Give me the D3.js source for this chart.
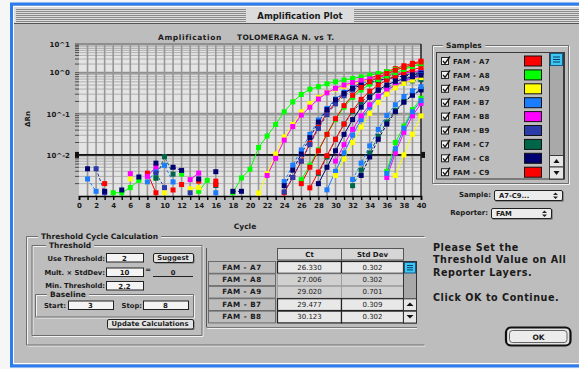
<!DOCTYPE html>
<html>
<head>
<meta charset="utf-8">
<script src="https://cdn.jsdelivr.net/npm/d3@7"></script>
<style>
  html, body { margin: 0; padding: 0; background: #ffffff; }
  svg { display: block; }
  text { font-family: "DejaVu Sans", "Liberation Sans", sans-serif; fill: #1a1a1a; }
</style>
</head>
<body>
<script>
// ---- data -------------------------------------------------------------
const _ = null;                       // cycle with no plotted reading
const cycles = d3.range(1, 41);       // cycles 1..40
const xTickValues = d3.range(0, 41, 2);
const yTickValues = [10, 1, 0.1, 0.01];
const yTickLabels = ["10^1", "10^0", "10^-1", "10^-2"];
const thresholdValue = 0.01;

// Delta Rn per cycle (cycle 1 .. 40)
const rnA7 = [_,_,0.0020,_,_, _,_,0.0036,0.0012,_, _,0.0019,_,0.0023,_, 0.0023,_,_,_,_,
  _,_,_,0.0012,0.00282, 0.00708,0.0191,0.0479,0.105,0.191, 0.302,0.437,0.575,0.724,0.891, 1.10,1.39,1.75,2.13,2.52];
const rnA8 = [_,_,_,0.0012,0.0012, 0.0016,0.0024,_,0.0028,_, _,0.0034,_,0.0013,0.0024, _,_,0.0012,0.00275,0.00447,
  0.0151,0.0288,0.0550,0.112,0.195, 0.295,0.398,0.457,0.537,0.603, 0.661,0.724,0.794,0.871,0.955, 1.10,1.30,1.49,1.69,1.93];
const rnA9 = [_,_,_,_,_, 0.0026,_,0.0022,_,0.0012, _,_,0.0015,0.0016,_, _,_,_,_,_,
  0.00118,0.0035,0.0105,0.0275,0.055, 0.112,0.178,0.251,0.331,0.398, 0.468,0.537,0.603,0.676,0.759, 0.832,0.912,1.0,1.10,1.22];
const rnB7 = [0.0026,0.0013,_,_,_, _,_,0.0022,0.0042,0.0056, 0.0022,_,_,_,_, 0.0012,_,_,_,_,
  _,_,_,0.00224,0.00562, 0.0132,0.0316,0.0708,0.135,0.229, 0.331,0.437,0.537,0.631,0.724, 0.813,0.891,0.977,1.07,1.18];
const rnB8 = [_,_,_,_,_, 0.0035,_,0.0030,0.0051,_, _,_,0.0025,0.0036,_, _,_,_,_,_,
  _,0.00316,0.0083,0.0229,0.049, 0.093,0.145,0.229,0.324,0.417, 0.501,0.575,0.646,0.708,0.776, 0.851,0.912,0.977,1.07,1.18];
const rnB9 = [_,0.0046,0.0012,_,_, _,_,_,0.0036,0.0016, _,_,0.0012,_,_, _,_,_,_,_,
  _,_,_,0.00126,0.00282, 0.00708,0.0178,0.0437,0.0955,0.174, 0.275,0.380,0.479,0.562,0.646, 0.724,0.794,0.871,0.933,1.0];
const rnC7 = [_,_,_,_,_, _,_,_,0.0027,0.0091, 0.0034,_,_,_,_, 0.0018,_,_,_,_,
  _,_,_,_,_, _,_,0.00355,0.00891,0.024, 0.0562,0.112,0.191,0.282,0.372, 0.447,0.513,0.575,0.631,0.676];
const rnC8 = [0.0046,_,0.0013,_,0.0014, _,0.0029,_,0.0063,_, 0.0050,0.0042,_,0.0026,_, 0.0039,_,0.0013,0.0013,_,
  _,_,_,0.00178,0.00427, 0.0105,0.0263,0.0631,0.126,0.219, 0.316,0.417,0.501,0.575,0.646, 0.708,0.776,0.832,0.891,0.955];
const rnC9 = [_,_,_,_,_, _,_,_,_,_, 0.0014,_,_,_,_, 0.0019,_,_,_,_,
  _,_,_,_,_, _,0.00158,0.0038,0.00955,0.024, 0.0562,0.120,0.224,0.355,0.501, 0.661,0.832,1.0,1.26,1.53];
const rnD7 = [_,_,_,_,_, _,_,_,_,_, _,_,_,_,_, _,_,_,_,_,
  _,_,_,_,_, 0.00251,0.00562,0.0132,0.0316,0.0724, 0.145,0.251,0.380,0.525,0.676, 0.832,1.0,1.30,1.64,2.07];
const rnD8 = [_,_,_,_,_, _,_,_,_,_, _,_,_,_,_, _,_,_,_,_,
  _,_,_,_,_, 0.0020,0.00501,0.0126,0.0316,0.0759, 0.158,0.282,0.437,0.603,0.776, 0.955,1.22,1.53,1.93,2.36];
const rnD9 = [_,_,_,_,_, _,_,_,_,_, _,_,_,_,_, _,_,_,_,_,
  _,_,_,_,_, _,_,_,0.00141,0.00398, 0.0112,0.0302,0.0724,0.145,0.251, 0.372,0.501,0.631,0.759,0.891];
const rnE7 = [_,_,_,_,_, _,_,_,_,_, _,_,_,_,_, _,_,_,_,_,
  _,_,_,_,_, _,_,_,_,0.00708, 0.0178,0.0417,0.0891,0.166,0.269, 0.380,0.501,0.617,0.724,0.832];
const rnE8 = [_,_,_,_,_, _,_,_,_,_, _,_,_,_,_, _,_,_,_,_,
  _,_,_,_,_, _,_,_,_,0.00316, 0.00794,0.020,0.0479,0.102,0.191, 0.302,0.427,0.550,0.661,0.759];
const rnE9 = [_,_,_,_,_, _,_,_,_,_, _,_,_,_,_, _,_,_,_,_,
  _,_,_,_,_, _,_,0.0020,0.00501,0.0126, 0.0316,0.0724,0.145,0.251,0.380, 0.501,0.617,0.708,0.794,0.871];
const rnF7 = [_,_,_,_,_, _,_,_,_,_, _,_,_,_,_, _,_,_,_,_,
  _,_,_,_,_, _,_,_,_,_, _,0.00178,0.00427,0.0112,0.0282, 0.0631,0.120,0.200,0.295,0.398];
const rnF8 = [_,_,_,_,_, _,_,_,_,_, _,_,_,_,_, _,_,_,_,_,
  _,_,_,_,_, _,_,_,_,_, _,_,0.00316,0.00891,0.024, 0.0562,0.112,0.191,0.282,0.380];
const rnF9 = [_,_,_,_,_, _,_,_,_,_, _,_,_,_,_, _,_,_,_,_,
  _,_,_,_,_, _,_,_,_,_, _,0.00251,0.00631,0.0166,0.0417, 0.0912,0.166,0.263,0.363,0.457];
const rnG7 = [_,_,_,_,_, _,_,_,_,_, _,_,_,_,_, _,_,_,_,_,
  _,_,_,_,_, _,_,_,_,_, _,_,_,_,_, 0.00398,0.020,0.0501,0.126,0.240];
const rnG8 = [_,_,_,_,_, _,_,_,_,_, _,_,_,_,_, _,_,_,_,_,
  _,_,_,_,_, _,_,_,_,_, _,_,_,_,_, 0.00282,0.0112,0.0355,0.0891,0.178];
const rnG9 = [_,_,_,_,_, _,_,_,_,_, _,_,_,_,_, _,_,_,_,_,
  _,_,_,_,_, _,_,_,_,_, _,_,_,_,_, _,0.00316,0.010,0.0316,0.0891];
const rnH7 = [_,_,_,_,_, _,_,_,_,_, _,_,_,_,_, _,_,_,_,_,
  _,_,_,_,_, _,_,_,_,_, _,_,_,_,_, 0.00355,0.0141,0.0447,0.112,0.209];

const sampleNames = ["FAM - A7","FAM - A8","FAM - A9","FAM - B7","FAM - B8","FAM - B9","FAM - C7","FAM - C8","FAM - C9",
  "FAM - D7","FAM - D8","FAM - D9","FAM - E7","FAM - E8","FAM - E9","FAM - F7","FAM - F8","FAM - F9",
  "FAM - G7","FAM - G8","FAM - G9","FAM - H7"];
const sampleValues = [rnA7, rnA8, rnA9, rnB7, rnB8, rnB9, rnC7, rnC8, rnC9,
  rnD7, rnD8, rnD9, rnE7, rnE8, rnE9, rnF7, rnF8, rnF9, rnG7, rnG8, rnG9, rnH7];

// table of threshold cycles
const tableWells = ["FAM - A7","FAM - A8","FAM - A9","FAM - B7","FAM - B8"];
const tableCt = ["26.330","27.006","29.020","29.477","30.123"];
const tableStdDev = ["0.302","0.302","0.701","0.309","0.302"];

// ---- styles -----------------------------------------------------------
const RED = "#ff0000", GREEN = "#00ff00", YELLOW = "#ffff00", BLUE = "#1a7cff",
      MAGENTA = "#ff00ff", MIDBLUE = "#2a3aa8", TEAL = "#00664a", NAVY = "#000070";
const sampleColors = [RED, GREEN, YELLOW, BLUE, MAGENTA, MIDBLUE, TEAL, NAVY, RED,
  GREEN, RED, BLUE, MAGENTA, YELLOW, NAVY, TEAL, NAVY, BLUE, GREEN, MAGENTA, YELLOW, BLUE];
const sampleDashed = [false,false,false,true,false,true,true,true,false,
  false,false,false,false,false,false,true,true,true,false,false,false,false];
const legendCount = 9;

const W = 579, H = 369;
const BG = "#bdbdbd";
const svg = d3.select("body").append("svg").attr("width", W).attr("height", H);

// ---- window frame -------------------------------------------------------
svg.append("rect").attr("width", W).attr("height", H).attr("fill", "#f6f6f6");
svg.append("rect").attr("x", 10).attr("y", 3).attr("width", W).attr("height", 364).attr("fill", BG);
// title bar
svg.append("rect").attr("x", 13).attr("y", 6).attr("width", W).attr("height", 17).attr("fill", "#dcdcdc");
d3.range(9, 22, 2).forEach(yy => {
  svg.append("line").attr("x1", 16).attr("x2", W).attr("y1", yy + 0.5).attr("y2", yy + 0.5)
    .attr("stroke", "#8a8a8a").attr("stroke-width", 1);
});
svg.append("rect").attr("x", 246).attr("y", 8).attr("width", 108).attr("height", 14).attr("fill", "#dcdcdc");
svg.append("text").attr("x", 300).attr("y", 18.5).attr("text-anchor", "middle")
  .attr("font-size", 8.5).attr("font-weight", "bold").text("Amplification Plot");
svg.append("line").attr("x1", 13).attr("x2", W).attr("y1", 23.5).attr("y2", 23.5).attr("stroke", "#555");
// white inner highlight + blue border
svg.append("path").attr("d", `M${W},6.5 H13.5 V363.5 H${W}`).attr("fill", "none").attr("stroke", "#ffffff");
svg.append("path").attr("d", `M${W + 5},4 H11.5 V366 H${W + 5}`).attr("fill", "none")
  .attr("stroke", "#2b7df2").attr("stroke-width", 3);

// etched group box helper
function groupBox(x, y, w, h, title, titleX, sides) {
  const g = svg.append("g");
  const draw = (dx, col) => {
    const p = d3.path();
    p.moveTo(x + dx, y + dx); p.lineTo(x + w + dx, y + dx);
    if (sides !== "open") { p.lineTo(x + w + dx, y + h + dx); } else { p.moveTo(x + w + dx, y + h + dx); }
    p.lineTo(x + dx, y + h + dx); p.lineTo(x + dx, y + dx);
    g.append("path").attr("d", p.toString()).attr("fill", "none").attr("stroke", col);
  };
  draw(1.5, "#f2f2f2");
  draw(0.5, "#6e6e6e");
  if (title) {
    const t = g.append("text").attr("x", titleX).attr("y", y + 3).attr("font-size", 7.5)
      .attr("font-weight", "bold").text(title);
    const bb = t.node().getBBox();
    g.insert("rect", "text").attr("x", bb.x - 3).attr("y", y - 2).attr("width", bb.width + 6)
      .attr("height", 5).attr("fill", BG);
  }
  return g;
}

// ---- plot ---------------------------------------------------------------
const xScale = d3.scaleLinear().domain([0, 40]).range([79, 421]);
const yScale = d3.scaleLog().domain([0.001, 1, 10]).range([196, 72.7, 44]);
const [px0, px1] = xScale.range();
const py0 = yScale(10), py1 = yScale(0.001);

svg.append("text").attr("x", 158).attr("y", 39.5).attr("font-size", 7.5).attr("font-weight", "bold")
  .attr("letter-spacing", 0.6).text("Amplification");
svg.append("text").attr("x", 237).attr("y", 39.5).attr("font-size", 7.5).attr("font-weight", "bold")
  .attr("letter-spacing", 0.3).text("TOLOMERAGA N. vs T.");

svg.append("rect").attr("x", px0).attr("y", py0).attr("width", px1 - px0).attr("height", py1 - py0)
  .attr("fill", "#e4e4e4");

// horizontal grid (decades + minor steps)
const minorValues = [];
[-3, -2, -1, 0].forEach(e => d3.range(2, 10).forEach(m => minorValues.push(m * Math.pow(10, e))));
const grid = svg.append("g");
minorValues.forEach(v => {
  grid.append("line").attr("x1", px0).attr("x2", px1).attr("y1", yScale(v)).attr("y2", yScale(v))
    .attr("stroke", "#b0b0b0").attr("stroke-width", 1);
});
[0.01, 0.1, 1, 10].forEach(v => {
  grid.append("line").attr("x1", px0).attr("x2", px1).attr("y1", yScale(v)).attr("y2", yScale(v))
    .attr("stroke", "#8e8e8e").attr("stroke-width", 2);
});
// vertical grid, one per cycle
d3.range(1, 40).forEach(c => {
  grid.append("line").attr("x1", xScale(c)).attr("x2", xScale(c)).attr("y1", py0).attr("y2", py1)
    .attr("stroke", "#979797").attr("stroke-width", 1.6);
});
// left tick marks on every grid value
minorValues.concat([0.01, 0.1, 1, 10]).forEach(v => {
  grid.append("line").attr("x1", px0 - 4).attr("x2", px0).attr("y1", yScale(v)).attr("y2", yScale(v))
    .attr("stroke", "#4a4a4a").attr("stroke-width", 1);
});

// threshold line with its end handles
svg.append("line").attr("x1", px0).attr("x2", px1).attr("y1", yScale(thresholdValue)).attr("y2", yScale(thresholdValue))
  .attr("stroke", "#111").attr("stroke-width", 1.6);
[px0 - 4, px1].forEach(hx => {
  svg.append("rect").attr("x", hx).attr("y", yScale(thresholdValue) - 3).attr("width", 4).attr("height", 6)
    .attr("fill", "#111");
});

// axes
const xAxis = svg.append("g").attr("transform", `translate(0,${py1})`)
  .call(d3.axisBottom(xScale).tickValues(d3.range(0, 41)).tickSize(4).tickPadding(3)
    .tickFormat(d => xTickValues.includes(d) ? d : ""));
xAxis.select(".domain").attr("stroke", "#000").attr("stroke-width", 1.6);
xAxis.selectAll(".tick line").attr("stroke", "#000").attr("stroke-width", 1.4);
xAxis.selectAll(".tick text").attr("font-size", 7).attr("font-weight", "bold").attr("fill", "#333")
  .attr("font-family", "DejaVu Sans, sans-serif");

const yAxis = svg.append("g").attr("transform", `translate(${px0},0)`)
  .call(d3.axisLeft(yScale).tickValues(yTickValues).tickSize(0).tickPadding(9)
    .tickFormat((d, i) => yTickLabels[i]));
yAxis.select(".domain").remove();
yAxis.selectAll(".tick text").attr("font-size", 7).attr("font-weight", "bold").attr("fill", "#333")
  .attr("font-family", "DejaVu Sans, sans-serif");

svg.append("line").attr("x1", px1).attr("x2", px1).attr("y1", py0).attr("y2", py1)
  .attr("stroke", "#222").attr("stroke-width", 1.5);

svg.append("text").attr("transform", "translate(30,119) rotate(-90)").attr("text-anchor", "middle")
  .attr("font-size", 7).attr("font-weight", "bold").text("ΔRn");
svg.append("text").attr("x", 245).attr("y", 229).attr("text-anchor", "middle")
  .attr("font-size", 7.5).attr("font-weight", "bold").text("Cycle");

// curves
svg.append("defs").append("clipPath").attr("id", "plotClip").append("rect")
  .attr("x", px0).attr("y", py0 - 3).attr("width", px1 - px0 + 3).attr("height", py1 - py0 + 3);
const curves = svg.append("g").attr("clip-path", "url(#plotClip)");
const series = sampleValues.map((vals, i) => ({
  name: sampleNames[i], color: sampleColors[i], dashed: sampleDashed[i],
  points: cycles.map((c, j) => ({ cycle: c, value: vals[j] }))
}));
const line = d3.line().defined(d => d.value != null)
  .x(d => xScale(d.cycle)).y(d => yScale(d.value));
series.forEach(s => {
  curves.append("path").attr("d", line(s.points)).attr("fill", "none")
    .attr("stroke", s.color).attr("stroke-width", 1)
    .attr("stroke-dasharray", s.dashed ? "3,2" : null);
});
series.forEach(s => {
  curves.selectAll(null).data(s.points.filter(d => d.value != null)).enter().append("rect")
    .attr("x", d => xScale(d.cycle) - 2.5).attr("y", d => yScale(d.value) - 2.5)
    .attr("width", 5).attr("height", 5).attr("fill", s.color);
});

// ---- Samples list -------------------------------------------------------
groupBox(432, 45, 136, 138, "Samples", 446);
svg.append("rect").attr("x", 436.5).attr("y", 52.5).attr("width", 128).attr("height", 126.5)
  .attr("fill", "none").attr("stroke", "#3a3a3a");
const legend = svg.append("g");
series.slice(0, legendCount).forEach((s, i) => {
  const cy = 61 + i * 13.9;
  legend.append("rect").attr("x", 441.5).attr("y", cy - 3.5).attr("width", 7).attr("height", 7)
    .attr("fill", "#f4f4f4").attr("stroke", "#222");
  legend.append("path").attr("d", `M443,${cy} L445,${cy + 2.5} L450,${cy - 4.5}`)
    .attr("fill", "none").attr("stroke", "#111").attr("stroke-width", 1.3);
  legend.append("text").attr("x", 453).attr("y", cy + 2.6).attr("font-size", 7).attr("font-weight", "bold")
    .attr("fill", "#333").attr("letter-spacing", 0.3).text(s.name);
  legend.append("rect").attr("x", 524.5).attr("y", cy - 5).attr("width", 17).attr("height", 10)
    .attr("fill", s.color).attr("stroke", "#111");
});
// list scrollbar
svg.append("rect").attr("x", 549.5).attr("y", 52.5).attr("width", 14).attr("height", 126.5)
  .attr("fill", "#a9a9a9").attr("stroke", "#3a3a3a");
svg.append("rect").attr("x", 550.5).attr("y", 53.5).attr("width", 12).attr("height", 12)
  .attr("fill", "#3cc8f0").attr("stroke", "#1a5a8a");
[57, 59.5, 62].forEach(yy => svg.append("line").attr("x1", 553).attr("x2", 560).attr("y1", yy).attr("y2", yy)
  .attr("stroke", "#0a3a6a"));
svg.append("rect").attr("x", 549.5).attr("y", 155.5).attr("width", 14).attr("height", 11.5)
  .attr("fill", "#e6e6e6").attr("stroke", "#3a3a3a");
svg.append("rect").attr("x", 549.5).attr("y", 167).attr("width", 14).attr("height", 12)
  .attr("fill", "#e6e6e6").attr("stroke", "#3a3a3a");
svg.append("path").attr("d", "M553.5,163 L556.5,159 L559.5,163 Z").attr("fill", "#111");
svg.append("path").attr("d", "M553.5,171 L556.5,175 L559.5,171 Z").attr("fill", "#111");

// popup menus
function popup(x, y, w, label, value) {
  svg.append("text").attr("x", x - 3).attr("y", y + 7).attr("text-anchor", "end").attr("font-size", 7)
    .attr("font-weight", "bold").attr("fill", "#333").text(label);
  svg.append("rect").attr("x", x + 1.5).attr("y", y + 1.5).attr("width", w).attr("height", 10)
    .attr("fill", "#5a5a5a");
  svg.append("rect").attr("x", x + 0.5).attr("y", y + 0.5).attr("width", w).attr("height", 10)
    .attr("fill", "#ececec").attr("stroke", "#222").attr("rx", 1.5);
  svg.append("text").attr("x", x + 5).attr("y", y + 8).attr("font-size", 6.8).attr("font-weight", "bold")
    .attr("fill", "#333").text(value);
  svg.append("path").attr("d", `M${x + w - 9},${y + 5} L${x + w - 6.5},${y + 2.5} L${x + w - 4},${y + 5} Z M${x + w - 9},${y + 6.5} L${x + w - 6.5},${y + 9} L${x + w - 4},${y + 6.5} Z`)
    .attr("fill", "#222");
}
popup(494, 190, 68, "Sample:", "A7-C9...");
popup(491, 208, 60, "Reporter:", "FAM");

// ---- Threshold Cycle Calculation ----------------------------------------
groupBox(26, 236, 398, 108.5, "Threshold Cycle Calculation", 41, "open");
groupBox(31.5, 245, 170, 90, "Threshold", 49);
groupBox(35, 294, 158, 22.5, "Baseline", 50);

function field(x, y, w, value) {
  svg.append("rect").attr("x", x + 0.5).attr("y", y + 0.5).attr("width", w).attr("height", 8.5)
    .attr("fill", "#f4f4f4").attr("stroke", "#222");
  svg.append("text").attr("x", x + w / 2).attr("y", y + 7.5).attr("text-anchor", "middle")
    .attr("font-size", 7).attr("font-weight", "bold").attr("fill", "#222").text(value);
}
function label(x, y, txt, anchor) {
  svg.append("text").attr("x", x).attr("y", y).attr("text-anchor", anchor || "end").attr("font-size", 6.8)
    .attr("font-weight", "bold").attr("fill", "#333").text(txt);
}
function button(x, y, w, h, txt) {
  svg.append("rect").attr("x", x + 1.5).attr("y", y + 1.5).attr("width", w).attr("height", h)
    .attr("fill", "#6a6a6a").attr("rx", 1.5);
  svg.append("rect").attr("x", x + 0.5).attr("y", y + 0.5).attr("width", w).attr("height", h)
    .attr("fill", "#e2e2e2").attr("stroke", "#222").attr("rx", 1.5);
  svg.append("text").attr("x", x + w / 2).attr("y", y + h / 2 + 2.6).attr("text-anchor", "middle")
    .attr("font-size", 6.8).attr("font-weight", "bold").attr("fill", "#222").text(txt);
}

label(105, 260.5, "Use Threshold:");
field(106, 253, 37, "2");
button(153, 253, 40, 9, "Suggest");
label(105, 274.5, "Mult. × StdDev:");
field(106, 267.5, 37, "10");
label(148, 272, "=", "middle");
svg.append("line").attr("x1", 153).attr("x2", 193).attr("y1", 276.5).attr("y2", 276.5).attr("stroke", "#222");
label(173, 274.5, "0", "middle");
label(105, 288, "Min. Threshold:");
field(106, 281, 37, "2.2");
label(66, 307.5, "Start:");
field(68, 300.5, 45, "3");
label(142, 307.5, "Stop:");
field(143, 300.5, 45, "8");
button(107, 319, 86, 9.5, "Update Calculations");

// Ct table
const table = svg.append("g");
table.append("line").attr("x1", 206.5).attr("x2", 206.5).attr("y1", 248).attr("y2", 327).attr("stroke", "#555");
table.append("line").attr("x1", 206.5).attr("x2", 417).attr("y1", 327.5).attr("y2", 327.5).attr("stroke", "#777");
table.append("line").attr("x1", 207.5).attr("x2", 417).attr("y1", 328.5).attr("y2", 328.5).attr("stroke", "#f0f0f0");
[["Ct", 277.5, 64], ["Std Dev", 341.5, 62]].forEach(([t, x, w]) => {
  table.append("rect").attr("x", x).attr("y", 248.5).attr("width", w).attr("height", 11.5)
    .attr("fill", "#d6d6d6").attr("stroke", "#555");
  table.append("text").attr("x", x + w / 2).attr("y", 257).attr("text-anchor", "middle").attr("font-size", 7)
    .attr("font-weight", "bold").attr("fill", "#333").text(t);
});
tableWells.forEach((w, i) => {
  const top = 261 + i * 12.4, h = 11.8;
  const inner = (i === 1 || i === 2);
  table.append("rect").attr("x", 208.5).attr("y", top + 0.5).attr("width", 67).attr("height", h)
    .attr("fill", BG).attr("stroke", "#6a6a6a");
  table.append("text").attr("x", 242).attr("y", top + 8.6).attr("text-anchor", "middle").attr("font-size", 7.2)
    .attr("font-weight", "bold").attr("letter-spacing", 0.5).attr("fill", "#222").text(w);
  [[tableCt[i], 277.5, 64], [tableStdDev[i], 341.5, 62]].forEach(([t, x, cw]) => {
    table.append("rect").attr("x", x).attr("y", top + 0.5).attr("width", cw).attr("height", h)
      .attr("fill", inner ? "#d0d0d0" : "#e8e8e8").attr("stroke", inner ? "#9a9a9a" : "#222")
      .attr("stroke-width", inner ? 0.8 : 1.2);
    table.append("text").attr("x", x + cw / 2).attr("y", top + 8.6).attr("text-anchor", "middle")
      .attr("font-size", 7).attr("fill", "#333").text(t);
  });
});
// table scrollbar
table.append("rect").attr("x", 403.5).attr("y", 261.5).attr("width", 13).attr("height", 61.5)
  .attr("fill", "#a8a8a8").attr("stroke", "#333");
table.append("rect").attr("x", 404.5).attr("y", 262.5).attr("width", 11).attr("height", 10.5)
  .attr("fill", "#3cc8f0").attr("stroke", "#1a5a8a");
[265.5, 267.7, 269.9].forEach(yy => table.append("line").attr("x1", 407).attr("x2", 413).attr("y1", yy)
  .attr("y2", yy).attr("stroke", "#0a3a6a"));
[[298.8, "M406.5,306 L410,302.5 L413.5,306 Z"], [311.2, "M406.5,315 L410,318.5 L413.5,315 Z"]].forEach(([yy, d]) => {
  table.append("rect").attr("x", 403.5).attr("y", yy).attr("width", 13).attr("height", 11.8)
    .attr("fill", "#e6e6e6").attr("stroke", "#333");
  table.append("path").attr("d", d).attr("fill", "#111");
});

// ---- message + OK -------------------------------------------------------
const messageLines = ["Please Set the", "Threshold Value on All", "Reporter Layers.", "", "Click OK to Continue."];
messageLines.forEach((t, i) => {
  svg.append("text").attr("x", 433).attr("y", 250.5 + i * 12.6).attr("font-size", 9.6)
    .attr("font-weight", "bold").attr("letter-spacing", 0.55).attr("fill", "#222").text(t);
});
svg.append("rect").attr("x", 506).attr("y", 327.5).attr("width", 64.5).attr("height", 18)
  .attr("rx", 5).attr("fill", "#e4e4e4").attr("stroke", "#111").attr("stroke-width", 2.2);
svg.append("rect").attr("x", 509.5).attr("y", 330.5).attr("width", 57.5).attr("height", 12)
  .attr("rx", 3).attr("fill", "#ececec").attr("stroke", "#444").attr("stroke-width", 0.8);
svg.append("text").attr("x", 538.5).attr("y", 339.5).attr("text-anchor", "middle").attr("font-size", 7.5)
  .attr("font-weight", "bold").attr("fill", "#111").text("OK");
</script>
</body>
</html>
